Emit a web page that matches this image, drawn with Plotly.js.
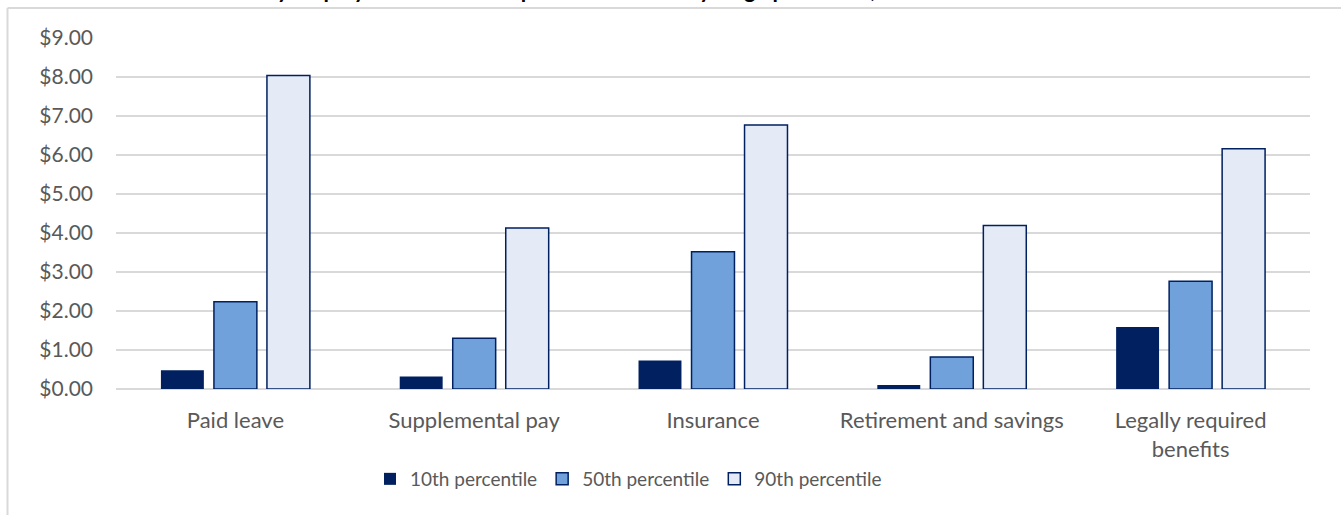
<!DOCTYPE html>
<html>
<head>
<meta charset="utf-8">
<script src="https://cdn.plot.ly/plotly-3.0.1.min.js"></script>
<style>
html,body{margin:0;padding:0;background:#fff;}
#chart{width:1341px;height:515px;}
</style>
</head>
<body>
<div id="chart"></div>
<script>
const titleText = "Chart 1. Private industry employer benefit costs per hour worked by wage percentile, March 2023";
const categories = ["Paid leave", "Supplemental pay", "Insurance", "Retirement and savings", "Legally required<br>benefits"];
const seriesNames = ["10th percentile", "50th percentile", "90th percentile"];
const p10 = [0.48, 0.32, 0.73, 0.10, 1.59];
const p50 = [2.24, 1.30, 3.52, 0.82, 2.76];
const p90 = [8.04, 4.13, 6.77, 4.19, 6.16];
const tickVals = [0, 1, 2, 3, 4, 5, 6, 7, 8, 9];
const tickText = ["$0.00", "$1.00", "$2.00", "$3.00", "$4.00", "$5.00", "$6.00", "$7.00", "$8.00", "$9.00"];

const fillColors = ["#002060", "#70a1da", "#e4ebf7"];
const lineColor = "#002060";
const values = [p10, p50, p90];

const traces = values.map((v, i) => ({
  type: "bar",
  name: seriesNames[i],
  x: categories,
  y: v,
  marker: {color: fillColors[i], line: {color: lineColor, width: i === 0 ? 0 : 1.5}},
  hoverinfo: "x+y+name"
}));

const W = 1341, H = 515;
const L = 116, R = 1310, T = 37.5, B = 389.5;
const px2x = p => (p - L) / (R - L);
const py2y = p => (B - p) / (B - T);

const FONT = "Lato, 'Noto Sans', sans-serif";

const layout = {
  width: W, height: H,
  margin: {l: L, r: W - R, t: T, b: H - B, pad: 0},
  paper_bgcolor: "#ffffff",
  plot_bgcolor: "#ffffff",
  barmode: "group",
  bargap: 0.334,
  bargroupgap: 0.19,
  font: {family: FONT, color: "#595959", size: 19},
  xaxis: {
    showgrid: false, zeroline: false, showline: false, ticks: "",
    tickfont: {size: 22, color: "#595959"},
    ticklabelstandoff: 16,
    fixedrange: true
  },
  yaxis: {
    range: [0, 9],
    tickvals: tickVals, ticktext: tickText,
    showgrid: true, gridcolor: "#d9d9d9", gridwidth: 1.5,
    zeroline: true, zerolinecolor: "#d9d9d9", zerolinewidth: 1.5,
    showline: false, ticks: "",
    tickfont: {size: 21, color: "#595959"},
    ticklabelstandoff: 22,
    fixedrange: true
  },
  showlegend: true,
  legend: {
    orientation: "h",
    xref: "container", yref: "container",
    x: 370 / W, xanchor: "left",
    y: 1 - 460 / H, yanchor: "top",
    font: {size: 19, color: "#595959"},
    traceorder: "normal",
    itemclick: false, itemdoubleclick: false
  },
  shapes: [
    {type: "line", xref: "paper", yref: "paper", x0: px2x(7.5), x1: px2x(1345), y0: py2y(7.5), y1: py2y(7.5), line: {color: "#d9d9d9", width: 2}},
    {type: "line", xref: "paper", yref: "paper", x0: px2x(7.5), x1: px2x(7.5), y0: py2y(7.5), y1: py2y(520), line: {color: "#d9d9d9", width: 2}}
  ],
  annotations: [
    {text: "<b>" + titleText + "</b>", xref: "paper", yref: "paper", x: px2x(48), xanchor: "left",
     y: py2y(4), yanchor: "bottom", showarrow: false, font: {size: 22, color: "#000000", family: FONT}}
  ]
};

Plotly.newPlot("chart", traces, layout, {displayModeBar: false, staticPlot: false});
</script>
</body>
</html>
